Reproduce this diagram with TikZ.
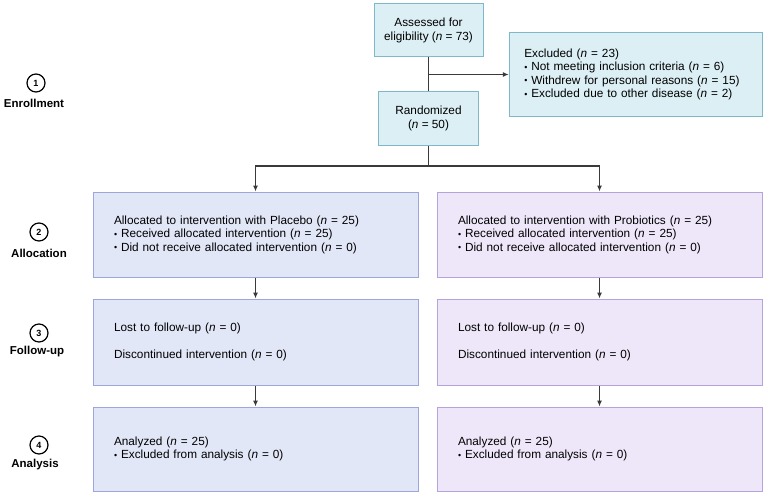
\documentclass[tikz,border=0pt]{standalone}
\usepackage{fontspec}
\setmainfont{Liberation Sans}
\usepackage{tikz}
\usetikzlibrary{arrows.meta, positioning, calc}
\definecolor{enrfill}{HTML}{DCEFF5}
\definecolor{enrdraw}{HTML}{7FB8C8}
\definecolor{plafill}{HTML}{E2E7F8}
\definecolor{pladraw}{HTML}{9DA7DB}
\definecolor{profill}{HTML}{EEE7F9}
\definecolor{prodraw}{HTML}{B7A3DB}
\definecolor{linegray}{HTML}{3A3A3A}
\newcommand{\nn}{\textit{n}}
\newcommand{\bul}{\raisebox{0.5pt}{\scalebox{0.75}{\textbullet}}}
\tikzset{
    enrbox/.style={rectangle, fill=enrfill, draw=enrdraw, line width=1pt, inner sep=2pt, align=center, font=\fontsize{11.8}{14}\selectfont},
    exclbox/.style={rectangle, fill=enrfill, draw=enrdraw, line width=1pt, inner xsep=15pt, inner ysep=2pt, align=left, text width=223.5pt, minimum height=83pt, font=\fontsize{11.8}{13.5}\selectfont},
    plabox/.style={rectangle, fill=plafill, draw=pladraw, line width=1pt, inner xsep=21pt, inner ysep=2pt, align=left, text width=283pt, font=\fontsize{11.8}{13.5}\selectfont},
    probox/.style={plabox, fill=profill, draw=prodraw},
    stagenum/.style={circle, draw=black, line width=1.2pt, minimum size=18pt, inner sep=0pt, font=\fontsize{9}{9}\selectfont\bfseries},
    stagelabel/.style={font=\fontsize{11.5}{12}\selectfont\bfseries, inner sep=0pt},
    flowline/.style={line width=1.1pt, draw=linegray},
    flowarrow/.style={-{Latex[length=6pt,width=5pt]}, line width=1.1pt, draw=linegray}
}
\begin{document}
\begin{tikzpicture}[x=1pt, y=-1pt]
    \useasboundingbox (0,0) rectangle (766,495);

    % Stage markers
    \node[stagenum] (s1) at (36,83) {1};
    \node[stagelabel] (l1) at (34,103) {Enrollment};
    \node[stagenum] (s2) at (39,232) {2};
    \node[stagelabel] (l2) at (39,253) {Allocation};
    \node[stagenum] (s3) at (39,333) {3};
    \node[stagelabel] (l3) at (37,352) {Follow-up};
    \node[stagenum] (s4) at (39,445) {4};
    \node[stagelabel] (l4) at (35,465) {Analysis};

    % Enrollment
    \node[enrbox, minimum width=109, minimum height=53] (assess) at (428.5,30.5) {Assessed for\\eligibility (\nn{} = 73)};
    \node[enrbox, minimum width=100, minimum height=53] (rand) at (428.5,118.5) {Randomized\\(\nn{} = 50)};
    \node[exclbox] (excl) at (636,74.5) {Excluded (\nn{} = 23)\\
        \bul{} Not meeting inclusion criteria (\nn{} = 6)\\
        \bul{} Withdrew for personal reasons (\nn{} = 15)\\
        \bul{} Excluded due to other disease (\nn{} = 2)};

    % Placebo arm
    \node[plabox, minimum height=85] (allocP) at (255.5,234.5) {Allocated to intervention with Placebo (\nn{} = 25)\\
        \bul{} Received allocated intervention (\nn{} = 25)\\
        \bul{} Did not receive allocated intervention (\nn{} = 0)};
    \node[plabox, minimum height=86] (followP) at (255.5,342) {Lost to follow-up (\nn{} = 0)\\[13.5pt]
        Discontinued intervention (\nn{} = 0)};
    \node[plabox, minimum height=84] (analP) at (255.5,449) {Analyzed (\nn{} = 25)\\
        \bul{} Excluded from analysis (\nn{} = 0)};

    % Probiotics arm
    \node[probox, minimum height=85] (allocR) at (599.5,234.5) {Allocated to intervention with Probiotics (\nn{} = 25)\\
        \bul{} Received allocated intervention (\nn{} = 25)\\
        \bul{} Did not receive allocated intervention (\nn{} = 0)};
    \node[probox, minimum height=86] (followR) at (599.5,342) {Lost to follow-up (\nn{} = 0)\\[13.5pt]
        Discontinued intervention (\nn{} = 0)};
    \node[probox, minimum height=84] (analR) at (599.5,449) {Analyzed (\nn{} = 25)\\
        \bul{} Excluded from analysis (\nn{} = 0)};

    % Connectors
    \coordinate (split) at (428.5,166);
    \draw[flowline] (assess) -- (rand);
    \draw[flowarrow] (assess.south |- excl.west) -- (excl.west);
    \draw[flowline] (rand) -- (split);
    \draw[flowarrow] (split) -| (allocP.north);
    \draw[flowarrow] (split) -| (allocR.north);
    \draw[flowarrow] (allocP) -- (followP);
    \draw[flowarrow] (followP) -- (analP);
    \draw[flowarrow] (allocR) -- (followR);
    \draw[flowarrow] (followR) -- (analR);
\end{tikzpicture}
\end{document}
